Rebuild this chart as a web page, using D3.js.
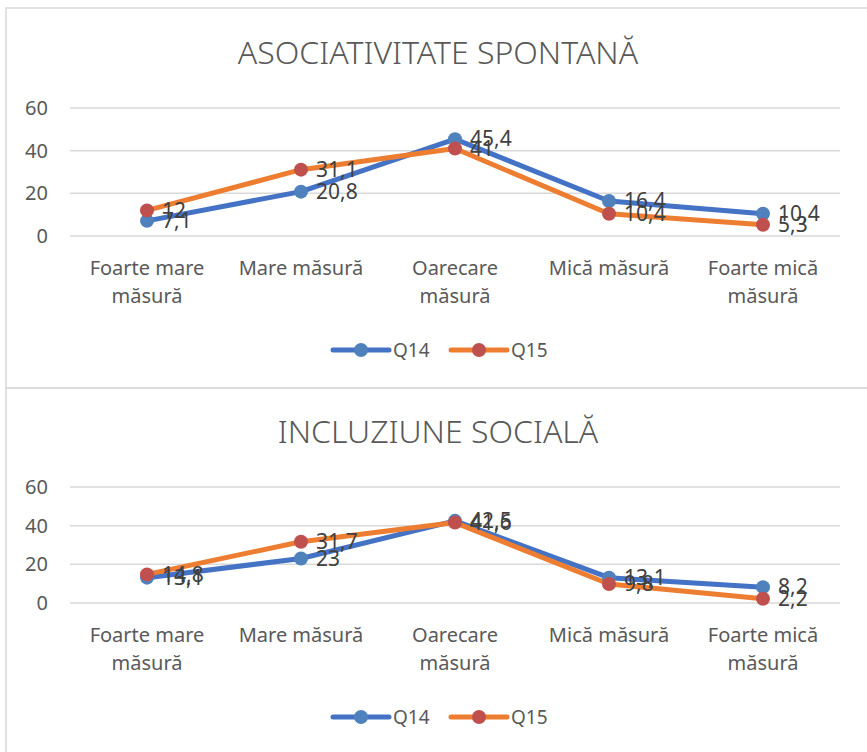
<!DOCTYPE html>
<html>
<head>
<meta charset="utf-8">
<script src="https://cdn.jsdelivr.net/npm/d3@7"></script>
<style>
  body { margin: 0; background: #fff; }
  svg { display: block; font-family: "Noto Sans", "Open Sans", sans-serif; }
</style>
</head>
<body>
<div id="chart"></div>
<script>
let categories = [
  ["Foarte mare", "măsură"],
  ["Mare măsură"],
  ["Oarecare", "măsură"],
  ["Mică măsură"],
  ["Foarte mică", "măsură"]
];
let yTicks = [0, 20, 40, 60];
let seriesNames = ["Q14", "Q15"];

let titleTop = "ASOCIATIVITATE SPONTANĂ";
let q14Top = [7.1, 20.8, 45.4, 16.4, 10.4];
let q15Top = [12, 31.1, 41, 10.4, 5.3];

let titleBottom = "INCLUZIUNE SOCIALĂ";
let q14Bottom = [13.1, 23, 42.5, 13.1, 8.2];
let q15Bottom = [14.8, 31.7, 41.6, 9.8, 2.2];

let width = 867, height = 752;
let lineColors = ["#4472c4", "#ed7d31"];
let markerColors = ["#4f81bd", "#c0504d"];

let svg = d3.select("#chart").append("svg")
  .attr("width", width)
  .attr("height", height);

// chart frames
svg.append("rect")
  .attr("x", 6).attr("y", 8).attr("width", 870).attr("height", 380)
  .attr("fill", "none").attr("stroke", "#d9d9d9").attr("stroke-width", 1.5);
svg.append("rect")
  .attr("x", 6).attr("y", 388).attr("width", 870).attr("height", 380)
  .attr("fill", "none").attr("stroke", "#d9d9d9").attr("stroke-width", 1.5);

function drawChart(cfg) {
  let g = svg.append("g");

  g.append("text")
    .attr("x", 438).attr("y", cfg.titleY)
    .attr("text-anchor", "middle")
    .attr("dominant-baseline", "middle")
    .attr("font-size", 32)
    .attr("font-weight", 300)
    .attr("fill", "#595959")
    .text(cfg.title);

  let x = d3.scaleBand()
    .domain(d3.range(categories.length))
    .range([70, 840]);

  let y = d3.scaleLinear()
    .domain([0, 60])
    .range([cfg.y0, cfg.y60]);

  // gridlines
  g.append("g")
    .selectAll("line")
    .data(yTicks)
    .enter()
    .append("line")
    .attr("x1", 70).attr("x2", 840)
    .attr("y1", d => y(d)).attr("y2", d => y(d))
    .attr("stroke", "#d9d9d9").attr("stroke-width", 1.5);

  let yAxis = g.append("g")
    .attr("transform", "translate(48,0)")
    .call(d3.axisLeft(y).tickValues(yTicks).tickSize(0).tickPadding(0));
  yAxis.select(".domain").remove();
  yAxis.selectAll("text")
    .attr("font-size", 20)
    .attr("fill", "#595959")
    .attr("font-family", "Noto Sans");

  // category labels
  let cat = g.append("g")
    .selectAll("text")
    .data(categories)
    .enter()
    .append("text")
    .attr("x", (d, i) => x(i) + x.bandwidth() / 2)
    .attr("y", cfg.catY)
    .attr("text-anchor", "middle")
    .attr("font-size", 20)
    .attr("fill", "#595959");
  cat.selectAll("tspan")
    .data(d => d)
    .enter()
    .append("tspan")
    .attr("x", function() { return d3.select(this.parentNode).attr("x"); })
    .attr("dy", (d, i) => i === 0 ? 0 : 28)
    .text(d => d);

  let line = d3.line()
    .x((d, i) => x(i) + x.bandwidth() / 2)
    .y(d => y(d));

  cfg.series.forEach((vals, s) => {
    g.append("path")
      .datum(vals)
      .attr("d", line)
      .attr("fill", "none")
      .attr("stroke", lineColors[s])
      .attr("stroke-width", 5)
      .attr("stroke-linejoin", "round")
      .attr("stroke-linecap", "round");
  });

  cfg.series.forEach((vals, s) => {
    g.append("g")
      .selectAll("circle")
      .data(vals)
      .enter()
      .append("circle")
      .attr("cx", (d, i) => x(i) + x.bandwidth() / 2)
      .attr("cy", d => y(d))
      .attr("r", 7)
      .attr("fill", markerColors[s]);
  });

  cfg.series.forEach((vals, s) => {
    g.append("g")
      .selectAll("text")
      .data(vals)
      .enter()
      .append("text")
      .attr("x", (d, i) => x(i) + x.bandwidth() / 2 + 15)
      .attr("y", d => y(d))
      .attr("dy", "0.35em")
      .attr("font-size", 21)
      .attr("fill", "#404040")
      .text(d => String(d).replace(".", ","));
  });

  // legend
  let legend = g.append("g");
  let lx = [333, 451];
  seriesNames.forEach((name, s) => {
    legend.append("line")
      .attr("x1", lx[s]).attr("x2", lx[s] + 56)
      .attr("y1", cfg.legendY).attr("y2", cfg.legendY)
      .attr("stroke", lineColors[s]).attr("stroke-width", 5)
      .attr("stroke-linecap", "round");
    legend.append("circle")
      .attr("cx", lx[s] + 28).attr("cy", cfg.legendY)
      .attr("r", 7).attr("fill", markerColors[s]);
    legend.append("text")
      .attr("x", lx[s] + 60).attr("y", cfg.legendY)
      .attr("dy", "0.35em")
      .attr("font-size", 19)
      .attr("fill", "#595959")
      .text(name);
  });
}

drawChart({
  title: titleTop, titleY: 55,
  y0: 236, y60: 108, catY: 275,
  legendY: 350,
  series: [q14Top, q15Top]
});

drawChart({
  title: titleBottom, titleY: 434,
  y0: 603, y60: 487, catY: 642,
  legendY: 717,
  series: [q14Bottom, q15Bottom]
});
</script>
</body>
</html>
